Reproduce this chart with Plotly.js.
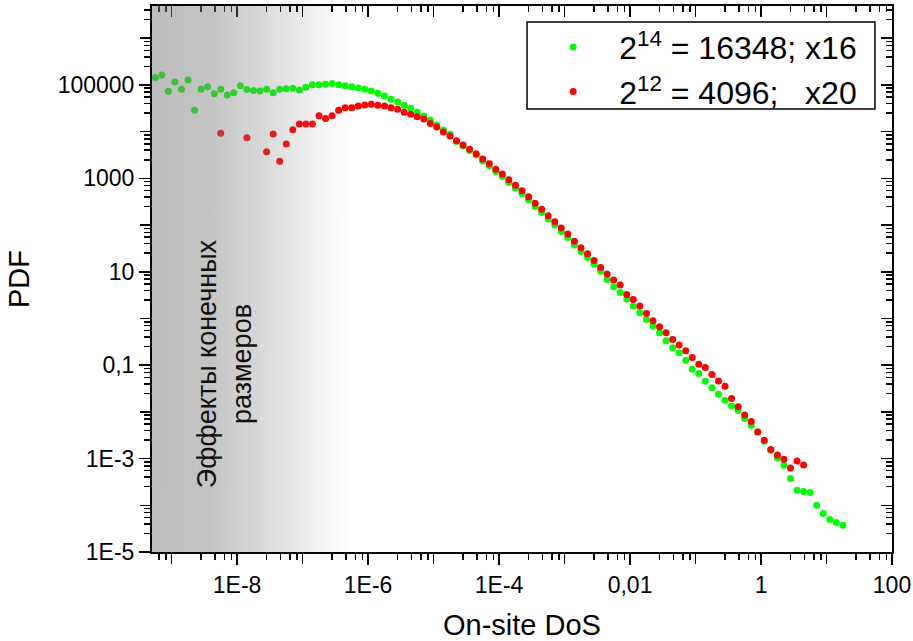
<!DOCTYPE html>
<html>
<head>
<meta charset="utf-8">
<script src="https://cdn.plot.ly/plotly-3.0.1.min.js"></script>
<style>html,body{margin:0;padding:0;background:#fff;}#chart{width:913px;height:641px;}</style>
</head>
<body>
<div id="chart"></div>
<script>
// ---- data ----
const seriesNames = ['2<sup>14</sup> = 16348; x16', '2<sup>12</sup> = 4096;\u00a0\u00a0\u00a0x20'];

const dosGreen = [
  5.62e-10, 7.08e-10, 8.91e-10,
  1.12e-9, 1.41e-9, 1.78e-9, 2.24e-9, 2.82e-9, 3.55e-9, 4.47e-9, 5.62e-9, 7.08e-9, 8.91e-9,
  1.12e-8, 1.41e-8, 1.78e-8, 2.24e-8, 2.82e-8, 3.55e-8, 4.47e-8, 5.62e-8, 7.08e-8, 8.91e-8,
  1.12e-7, 1.41e-7, 1.78e-7, 2.24e-7, 2.82e-7, 3.55e-7, 4.47e-7, 5.62e-7, 7.08e-7, 8.91e-7,
  1.12e-6, 1.41e-6, 1.78e-6, 2.24e-6, 2.82e-6, 3.55e-6, 4.47e-6, 5.62e-6, 7.08e-6, 8.91e-6,
  1.12e-5, 1.41e-5, 1.78e-5, 2.24e-5, 2.82e-5, 3.55e-5, 4.47e-5, 5.62e-5, 7.08e-5, 8.91e-5,
  1.12e-4, 1.41e-4, 1.78e-4, 2.24e-4, 2.82e-4, 3.55e-4, 4.47e-4, 5.62e-4, 7.08e-4, 8.91e-4,
  1.12e-3, 1.41e-3, 1.78e-3, 2.24e-3, 2.82e-3, 3.55e-3, 4.47e-3, 5.62e-3, 7.08e-3, 8.91e-3,
  1.12e-2, 1.41e-2, 1.78e-2, 2.24e-2, 2.82e-2, 3.55e-2, 4.47e-2, 5.62e-2, 7.08e-2, 8.91e-2,
  0.112, 0.141, 0.178, 0.224, 0.282, 0.355, 0.447, 0.562, 0.708, 0.891,
  1.12, 1.41, 1.78, 2.24, 2.82, 3.55, 4.47, 5.62, 7.08, 8.91,
  11.2, 14.1, 17.8
];
const pdfGreen = [
  145000, 164000, 73300, 116000, 80900, 128000, 28800, 80900, 92000, 65100,
  80900, 61000, 68000, 96600, 80000, 76300, 74400, 80900, 68400, 80900,
  83300, 85000, 78200, 89300, 101000, 101000, 103500, 107000, 101000, 96600,
  92000, 86300, 80900, 74400, 66400, 58100, 49400, 43200, 36700, 31700,
  26000, 21700, 17800, 13900, 10900, 8790, 6150, 4930, 3950, 3160,
  2350, 1870, 1400, 1090, 815, 612, 469, 349, 249, 185,
  135, 100, 72.6, 54, 37.3, 27.3, 20.3, 14.5, 10.3, 6.87,
  4.77, 3.61, 2.6, 1.84, 1.32, 0.955, 0.686, 0.492, 0.332, 0.235,
  0.184, 0.128, 0.0822, 0.0664, 0.0455, 0.0327, 0.0239, 0.0178, 0.0134, 0.0107,
  0.00721, 0.00519, 0.00372, 0.00236, 0.00151, 0.00103, 0.000721, 0.000374, 0.00021, 0.000197,
  0.000187, 0.0001, 0.0000665, 0.0000494, 0.0000427, 0.0000373
];

const dosRed = [
  5.62e-9, 1.41e-8, 2.82e-8, 3.55e-8, 4.47e-8, 5.62e-8, 7.08e-8, 8.91e-8,
  1.12e-7, 1.41e-7, 1.78e-7, 2.24e-7, 2.82e-7, 3.55e-7, 4.47e-7, 5.62e-7, 7.08e-7, 8.91e-7,
  1.12e-6, 1.41e-6, 1.78e-6, 2.24e-6, 2.82e-6, 3.55e-6, 4.47e-6, 5.62e-6, 7.08e-6, 8.91e-6,
  1.12e-5, 1.41e-5, 1.78e-5, 2.24e-5, 2.82e-5, 3.55e-5, 4.47e-5, 5.62e-5, 7.08e-5, 8.91e-5,
  1.12e-4, 1.41e-4, 1.78e-4, 2.24e-4, 2.82e-4, 3.55e-4, 4.47e-4, 5.62e-4, 7.08e-4, 8.91e-4,
  1.12e-3, 1.41e-3, 1.78e-3, 2.24e-3, 2.82e-3, 3.55e-3, 4.47e-3, 5.62e-3, 7.08e-3, 8.91e-3,
  1.12e-2, 1.41e-2, 1.78e-2, 2.24e-2, 2.82e-2, 3.55e-2, 4.47e-2, 5.62e-2, 7.08e-2, 8.91e-2,
  0.112, 0.141, 0.178, 0.224, 0.282, 0.355, 0.447, 0.562, 0.708, 0.891,
  1.12, 1.41, 1.78, 2.24, 2.82, 3.55, 4.47
];
const pdfRed = [
  9230, 7430, 3720, 8910, 2320, 5440, 11000, 14600,
  14600, 14600, 22000, 19000, 22000, 28700, 32600, 32600, 35500, 37300,
  38600, 36700, 35500, 32600, 30100, 26000, 23600, 20900, 18700, 15000,
  12600, 9840, 8070, 6410, 5180, 4190, 3370, 2600, 2060, 1560,
  1240, 935, 710, 543, 404, 292, 217, 158, 118, 86.3,
  64.1, 44.8, 32.7, 24.3, 17.4, 12.4, 8.91, 6.64, 5.19, 3.27,
  2.56, 1.84, 1.28, 0.891, 0.662, 0.492, 0.356, 0.269, 0.203, 0.146,
  0.105, 0.0893, 0.0632, 0.0461, 0.0355, 0.0194, 0.0128, 0.00861, 0.00622, 0.00372,
  0.00247, 0.00156, 0.0012, 0.000968, 0.000631, 0.000891, 0.000731
];

const xTickVals   = [1e-8, 1e-6, 1e-4, 1e-2, 1, 100];
const xTickLabels = ['1E-8', '1E-6', '1E-4', '0,01', '1', '100'];
const xPlainDecades = [1e-9, 1e-7, 1e-5, 1e-3, 1e-1, 10];
const yTickVals   = [1e5, 1e3, 10, 0.1, 1e-3, 1e-5];
const yTickLabels = ['100000', '1000', '10', '0,1', '1E-3', '1E-5'];
const yPlainDecades = [1e6, 1e4, 100, 1, 1e-2, 1e-4];

const xTitle = 'On-site DoS';
const yTitle = 'PDF';
const shadeLabel = 'Эффекты конечных<br>размеров';

// ---- tick helpers (positions only) ----
function minorSet(decades, mults) {
  const out = [];
  decades.forEach(d => mults.forEach(m => out.push(d * m)));
  return out;
}
const xAllDecades = xTickVals.concat(xPlainDecades).sort((a, b) => a - b);
const yAllDecades = yTickVals.concat(yPlainDecades).sort((a, b) => a - b);
const xMinor = minorSet([1e-10].concat(xAllDecades), [2.8, 4.6, 6.4, 8.2]);
const yMinor = minorSet(yAllDecades, [2.5, 4, 5.5, 7, 8.5]);

// gradient shade (drawn above the markers, semi-transparent)
function makeShade() {
  const c = document.createElement('canvas');
  c.width = 400; c.height = 4;
  const g = c.getContext('2d');
  const gr = g.createLinearGradient(0, 0, 400, 0);
  gr.addColorStop(0.0, 'rgba(125,125,125,0.50)');
  gr.addColorStop(0.3, 'rgba(125,125,125,0.45)');
  gr.addColorStop(0.55, 'rgba(125,125,125,0.30)');
  gr.addColorStop(0.8, 'rgba(125,125,125,0.12)');
  gr.addColorStop(1.0, 'rgba(125,125,125,0.0)');
  g.fillStyle = gr;
  g.fillRect(0, 0, 400, 4);
  return c.toDataURL('image/png');
}

const FONT = 'Arial, "Liberation Sans", sans-serif';
const TICKFONT = {size: 23, family: FONT, color: '#000'};
const TITLEFONT = {size: 29, family: FONT, color: '#000'};

const traces = [
  {x: dosGreen, y: pdfGreen, type: 'scatter', mode: 'markers', name: seriesNames[0],
   marker: {color: '#00ff00', size: 7, line: {width: 0}}},
  {x: dosRed, y: pdfRed, type: 'scatter', mode: 'markers', name: seriesNames[1],
   marker: {color: '#ff0000', size: 7, line: {width: 0}}},
  {x: [], y: [], xaxis: 'x2', yaxis: 'y2', type: 'scatter', mode: 'markers',
   showlegend: false, hoverinfo: 'skip'},
  {x: [], y: [], xaxis: 'x3', yaxis: 'y3', type: 'scatter', mode: 'markers',
   showlegend: false, hoverinfo: 'skip'}
];

const xRange = [-9.3, 2];
const yRange = [-5, 6.69];

const common = {type: 'log', showgrid: false, zeroline: false, tickcolor: '#000',
  tickwidth: 1.5, ticklen: 11, tickmode: 'array'};
function minorTicks(vals, dir) {
  return {tickmode: 'array', tickvals: vals, ticks: dir, ticklen: 6, tickwidth: 1.5,
          tickcolor: '#000', showgrid: false};
}

const layout = {
  width: 913, height: 641,
  margin: {l: 152, r: 21, t: 6, b: 89},
  paper_bgcolor: '#fff', plot_bgcolor: '#fff',
  font: {family: FONT, color: '#000'},
  showlegend: true,
  // labelled axes (bottom / left), ticks outside
  xaxis: Object.assign({}, common, {
    range: xRange, tickvals: xTickVals, ticktext: xTickLabels, ticks: 'outside',
    showline: true, linewidth: 2, linecolor: '#000', mirror: true,
    tickfont: TICKFONT,
    title: {text: xTitle, font: TITLEFONT, standoff: 20},
    minor: minorTicks(xMinor, 'outside')
  }),
  yaxis: Object.assign({}, common, {
    range: yRange, tickvals: yTickVals, ticktext: yTickLabels, ticks: 'outside',
    showline: true, linewidth: 2, linecolor: '#000', mirror: true,
    tickfont: TICKFONT,
    title: {text: yTitle, font: TITLEFONT, standoff: 20},
    minor: minorTicks(yMinor, 'outside')
  }),
  // mirrored ticks (top / right), pointing inside
  xaxis2: Object.assign({}, common, {
    range: xRange, tickvals: xAllDecades, overlaying: 'x', side: 'top', anchor: 'y2',
    ticks: 'inside', showticklabels: false, showline: false,
    minor: minorTicks(xMinor, 'inside')
  }),
  yaxis2: Object.assign({}, common, {
    range: yRange, tickvals: yAllDecades, overlaying: 'y', side: 'right', anchor: 'x2',
    ticks: 'inside', showticklabels: false, showline: false,
    minor: minorTicks(yMinor, 'inside')
  }),
  // unlabelled decade ticks on bottom / left
  xaxis3: Object.assign({}, common, {
    range: xRange, tickvals: xPlainDecades, overlaying: 'x', side: 'bottom', anchor: 'y3',
    ticks: 'outside', showticklabels: false, showline: false
  }),
  yaxis3: Object.assign({}, common, {
    range: yRange, tickvals: yPlainDecades, overlaying: 'y', side: 'left', anchor: 'x3',
    ticks: 'outside', showticklabels: false, showline: false
  }),
  legend: {
    x: 0.507, y: 0.975, xanchor: 'left', yanchor: 'top',
    bgcolor: 'rgba(0,0,0,0)', borderwidth: 0,
    font: {size: 32, family: FONT, color: '#000'},
    itemwidth: 82, tracegroupgap: 0
  },
  shapes: [{
    type: 'rect', xref: 'paper', yref: 'paper',
    x0: 0.5068, x1: 0.977, y0: 0.8114, y1: 0.9707,
    fillcolor: '#fff', line: {color: '#000', width: 1.5}, layer: 'above'
  }],
  images: [{
    source: makeShade(), xref: 'paper', yref: 'paper',
    x: 0, y: 1, sizex: 0.2676, sizey: 1, xanchor: 'left', yanchor: 'top',
    sizing: 'stretch', layer: 'above'
  }],
  annotations: [{
    text: shadeLabel, xref: 'paper', yref: 'paper',
    x: 0.0973, y: 0.344, xanchor: 'center', yanchor: 'middle',
    textangle: -90, showarrow: false, align: 'center',
    font: {size: 27, family: FONT, color: '#111'}
  }]
};

Plotly.newPlot('chart', traces, layout, {staticPlot: true, displayModeBar: false});
</script>
</body>
</html>
